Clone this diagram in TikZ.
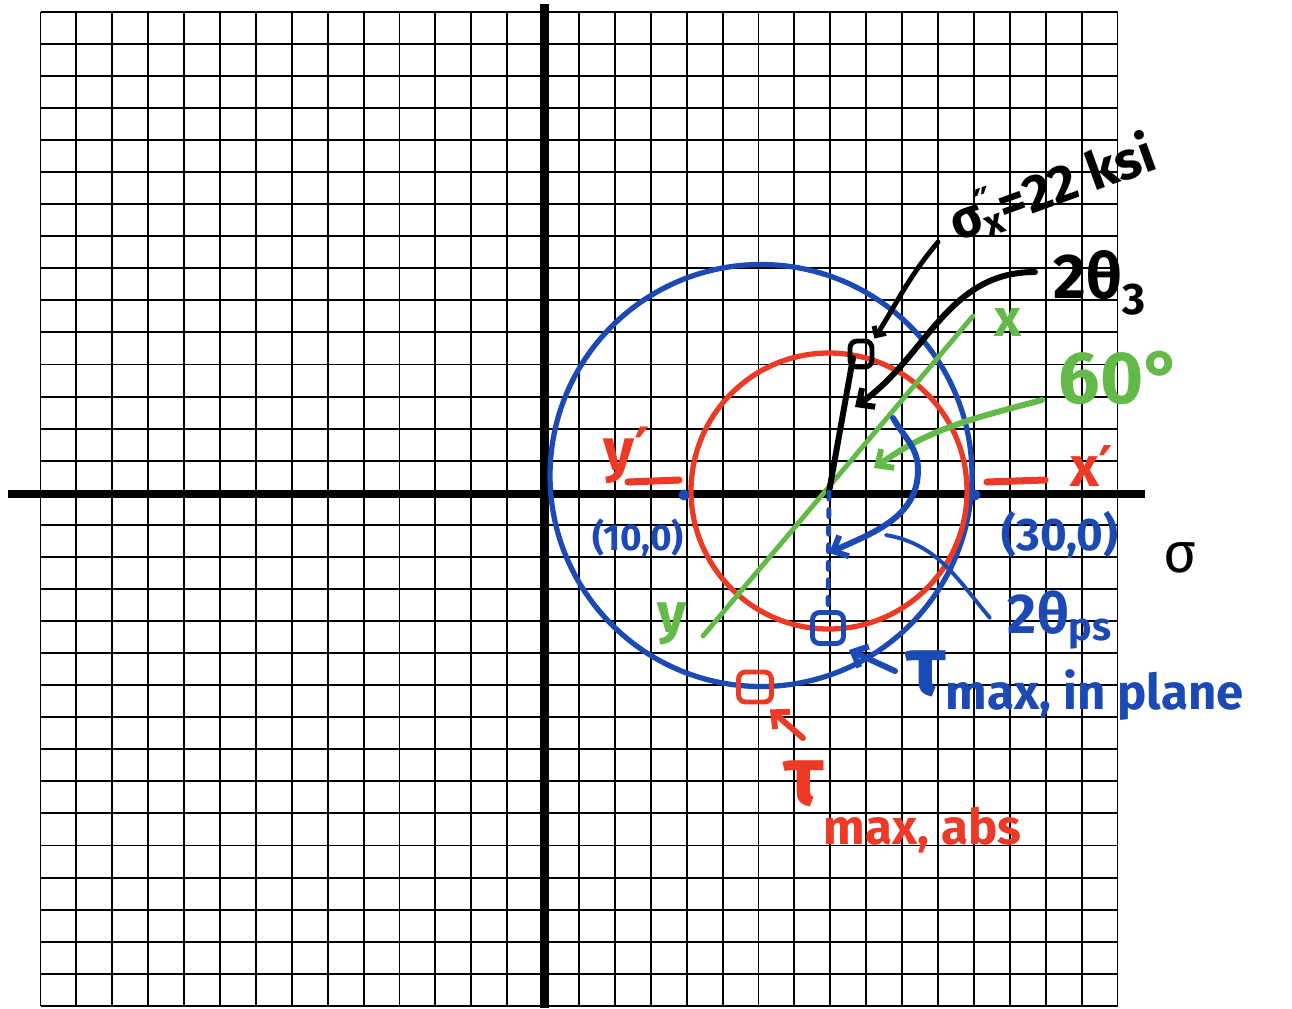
\documentclass[tikz,border=0pt]{standalone}
\usepackage{fontspec}
\setmainfont{Fira Sans}
\newfontfamily\primefont{DejaVu Sans}
\usetikzlibrary{arrows.meta}

\definecolor{penblue}{RGB}{28,74,180}
\definecolor{penred}{RGB}{236,58,38}
\definecolor{pengreen}{RGB}{100,186,72}

\begin{document}
\begin{tikzpicture}[x=0.02cm,y=-0.02cm,line cap=round,line join=round,
    gridline/.style={line width=1.1pt,line cap=butt},
    axisline/.style={line width=4.4pt,line cap=butt},
    ring/.style={line width=3pt},
    inkline/.style={line width=3.4pt},
    arrowtip/.style={-{Straight Barb[length=7pt,width=13pt]}},
    boxmark/.style={draw,line width=2.8pt,rounded corners=4pt,inner sep=0pt},
    inklabel/.style={inner sep=0pt,font=\bfseries\fontsize{#1}{#1}\selectfont}]
  \useasboundingbox (0,0) rectangle (1292,1008);

  % Graph paper: 30 columns, 31 rows.
  \foreach \i in {0,...,30}
    \draw[gridline] ({40.5+35.9*\i},11.7) -- ({40.5+35.9*\i},1006);
  \foreach \j in {0,...,31}
    \draw[gridline] (40.5,{11.7+32.07*\j}) -- (1117.5,{11.7+32.07*\j});
  \draw[axisline] (8,494.3) -- (1145,494.3);
  \draw[axisline,line width=5pt] (544.3,4) -- (544.3,1008);
  \node[inner sep=0pt,font=\fontsize{32}{32}\selectfont] (sigmaaxis)
    at (1180,558) {σ};

  % Mohr circles.
  \coordinate (Cabs) at (761,475.5);
  \coordinate (C) at (829,492);
  \draw[ring,penblue] (Cabs) circle (211);
  \draw[ring,penred] (829,491) circle (138);
  \fill[penblue] (684,495) circle (5.5);
  \fill[penblue] (975,495) circle (5.5);

  % Rotated x-y diameter and the new point.
  \coordinate (ylow) at (703,636);
  \coordinate (xhigh) at (973,316);
  \draw[inkline,pengreen,line width=2.8pt] (ylow) -- (xhigh);
  \coordinate (Ktop) at (853,358);
  \draw[inkline] (C) -- (Ktop);
  \node[boxmark,minimum width=0.44cm,minimum height=0.52cm] (sqK)
    at (861,354) {};

  % In-plane shear point and absolute shear point.
  \node[boxmark,draw=penblue,minimum size=0.62cm] (sqB) at (828,628) {};
  \node[boxmark,draw=penred,minimum width=0.66cm,minimum height=0.6cm]
    (sqR) at (755,687) {};
  \draw[inkline,penblue,line width=2.8pt,dash pattern=on 4pt off 6pt]
    (C) -- (sqB.north);

  % Labels.
  \node[inklabel=30,rotate=20] (sigmaxlbl) at (1052,188)
    {σ\rlap{\textsuperscript{\primefont″}}\textsubscript{x}=22 ksi};
  \node[inklabel=36] (twothreelbl) at (1100,283) {2θ\textsubscript{3}};
  \node[inklabel=42,text=pengreen] (sixtylbl) at (1120,378) {60°};
  \node[inklabel=30,text=pengreen] (xaxislbl) at (1008,322) {x};
  \node[inklabel=32,text=pengreen] (yaxislbl) at (672,624) {y};
  \node[inklabel=34,text=penred] (yprimelbl) at (627,455)
    {y{\primefont′}};
  \node[inklabel=32,text=penred] (xprimelbl) at (1092,466)
    {x{\primefont′}};
  \node[inklabel=21,text=penblue] (tenzero) at (638,538) {(10,0)};
  \node[inklabel=26,text=penblue] (thirtyzero) at (1060,535) {(30,0)};
  \node[inklabel=32,text=penblue] (twopslbl) at (1060,620)
    {2θ\textsubscript{ps}};
  \node[inklabel=28,text=penblue,anchor=base west] (inplanelbl)
    at (905,695)
    {{\fontsize{48}{48}\selectfont τ}\raisebox{-0.3em}{max, in plane}};
  \node[inklabel=28,text=penred,anchor=base west] (abslbl) at (783,805)
    {{\fontsize{48}{48}\selectfont τ}\raisebox{-0.8em}{max, abs}};

  % Leaders and arrows.
  \coordinate (sigtail) at (938,242);
  \draw[inkline,line width=2.8pt,-{Straight Barb[length=4pt,width=8pt]}]
    (sigtail) to[out=-130,in=58] (sqK.north east);
  \coordinate (thtail) at (1035,272);
  \coordinate (thtip) at (855,407);
  \draw[inkline,arrowtip] (thtail) to[out=180,in=35] (thtip);
  \coordinate (sixtail) at (1042,400);
  \coordinate (sixtip) at (874,468);
  \draw[inkline,pengreen,arrowtip] (sixtail) to[out=195,in=35] (sixtip);
  \coordinate (psstart) at (893,418);
  \coordinate (pstip) at (829,553);
  \draw[inkline,penblue,arrowtip] (psstart) to[out=-60,in=90] (918,470)
    to[out=-90,in=25] (pstip);
  \coordinate (pslead) at (990,618);
  \coordinate (psend) at (886,535);
  \draw[inkline,penblue,line width=2.2pt] (pslead) to[out=130,in=-10] (psend);
  \coordinate (inplanetail) at (895,671);
  \draw[inkline,penblue,arrowtip] (inplanetail)
    -- ([shift={(3,4)}]sqB.south east);
  \coordinate (abstail) at (803,738);
  \draw[inkline,penred,arrowtip] (abstail)
    -- ([shift={(-4,5)}]sqR.south east);
  \draw[inkline,penred,line width=4pt] (628,482) -- (679,480);
  \draw[inkline,penred,line width=4pt] (987,482) -- (1045,480);
\end{tikzpicture}
\end{document}
